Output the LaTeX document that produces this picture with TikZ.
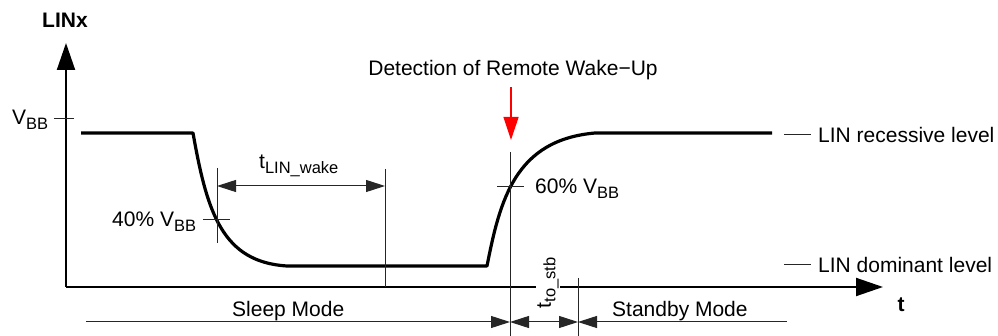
\documentclass[tikz,border=0pt]{standalone}
\usepackage{fontspec}
\setmainfont{Liberation Sans}
\usetikzlibrary{arrows.meta}
\newcommand{\lowsub}[1]{\raisebox{-4.5pt}{\fontsize{16.5}{17}\selectfont #1}}
\tikzset{
  lbl/.style={inner sep=0pt, font=\fontsize{21}{25}\selectfont},
  axis/.style={line width=2pt, black},
  signal/.style={line width=3.2pt, black, line join=round},
  thin/.style={line width=1pt, black!85},
  dimtip/.style={-{Triangle[length=19pt,width=12pt]}},
  bigtip/.style={-{Triangle[length=27pt,width=18pt]}},
}
\begin{document}
\begin{tikzpicture}[x=1pt,y=-1pt]
\useasboundingbox (0,0) rectangle (998,336);
% axes
\coordinate (o) at (66,287);
\coordinate (ytop) at (66,43);
\coordinate (xend) at (883,287);
\draw[axis,bigtip] (o) -- (ytop);
\draw[axis,bigtip] (o) -- (xend);
\node[lbl,font=\fontsize{21}{25}\selectfont\bfseries] (linx) at (65,20) {LINx};
\node[lbl,font=\fontsize{21}{25}\selectfont\bfseries] (tlab) at (901,305) {t};
% VBB tick
\coordinate (vbb1) at (54,119);
\coordinate (vbb2) at (74,119);
\draw[thin] (vbb1) -- (vbb2);
\node[lbl,anchor=base west] (vbb) at (12,125) {V\lowsub{BB}};
% signal
\coordinate (s0) at (81,133);
\coordinate (s1) at (193,133);
\coordinate (s2) at (287,266);
\coordinate (s3) at (487,266);
\coordinate (s4) at (595,133);
\coordinate (s5) at (772,133);
\draw[signal] (s0) -- (s1) .. controls (207,212) and (222,262) .. (s2) -- (s3)
  .. controls (500,200) and (515,140) .. (s4) -- (s5);
% 40% marker
\coordinate (m40a) at (203,220);
\coordinate (m40b) at (230,220);
\coordinate (v40a) at (217,168);
\coordinate (v40b) at (217,243);
\draw[thin] (m40a) -- (m40b);
\draw[thin] (v40a) -- (v40b);
\node[lbl,anchor=base west] (l40) at (112,227) {40\% V\lowsub{BB}};
% tLIN_wake
\coordinate (vw1) at (385,169);
\coordinate (vw2) at (385,287);
\draw[thin] (vw1) -- (vw2);
\coordinate (wa) at (217,186);
\coordinate (wb) at (385,186);
\draw[thin,{Triangle[length=19pt,width=12pt]}-{Triangle[length=19pt,width=12pt]}] (wa) -- (wb);
\node[lbl,anchor=base west] (tw) at (259,169) {t\lowsub{LIN\_wake}};
% 60% marker
\coordinate (m60a) at (497,187);
\coordinate (m60b) at (524,187);
\draw[thin] (m60a) -- (m60b);
\coordinate (v60a) at (510,152);
\coordinate (v60b) at (510,336);
\draw[thin] (v60a) -- (v60b);
\node[lbl,anchor=base west] (l60) at (535,194) {60\% V\lowsub{BB}};
% detection
\node[lbl] (det) at (513,70) {Detection of Remote Wake\textminus Up};
\coordinate (ra) at (511,87);
\coordinate (rb) at (511,140);
\draw[line width=1.2pt,red,-{Triangle[length=23pt,width=15pt]}] (ra) -- (rb);
% t_to_stb
\coordinate (vs1) at (578,278);
\coordinate (vs2) at (578,336);
\draw[thin] (vs1) -- (vs2);
\node[lbl,rotate=90,fill=white,inner sep=1pt] (tstb) at (548,283) {t\lowsub{to\_stb}};
% mode lines
\coordinate (sl0) at (86,322);
\coordinate (sl1) at (510,322);
\coordinate (st0) at (578,322);
\coordinate (st1) at (787,322);
\draw[thin,dimtip] (sl0) -- (sl1);
\draw[thin,{Triangle[length=19pt,width=12pt]}-{Triangle[length=19pt,width=12pt]}] (sl1) -- (st0);
\draw[thin,{Triangle[length=19pt,width=12pt]}-] (st0) -- (st1);
\node[lbl,anchor=base west] (sleep) at (232,317) {Sleep Mode};
\node[lbl,anchor=base west] (stby) at (612,317) {Standby Mode};
% level labels
\coordinate (r1) at (784,135);
\coordinate (r2) at (811,135);
\coordinate (d1) at (784,265);
\coordinate (d2) at (811,265);
\draw[thin] (r1) -- (r2);
\draw[thin] (d1) -- (d2);
\node[lbl,anchor=west] (rec) at (818,135) {LIN recessive level};
\node[lbl,anchor=west] (dom) at (818,265) {LIN dominant level};
\end{tikzpicture}
\end{document}
